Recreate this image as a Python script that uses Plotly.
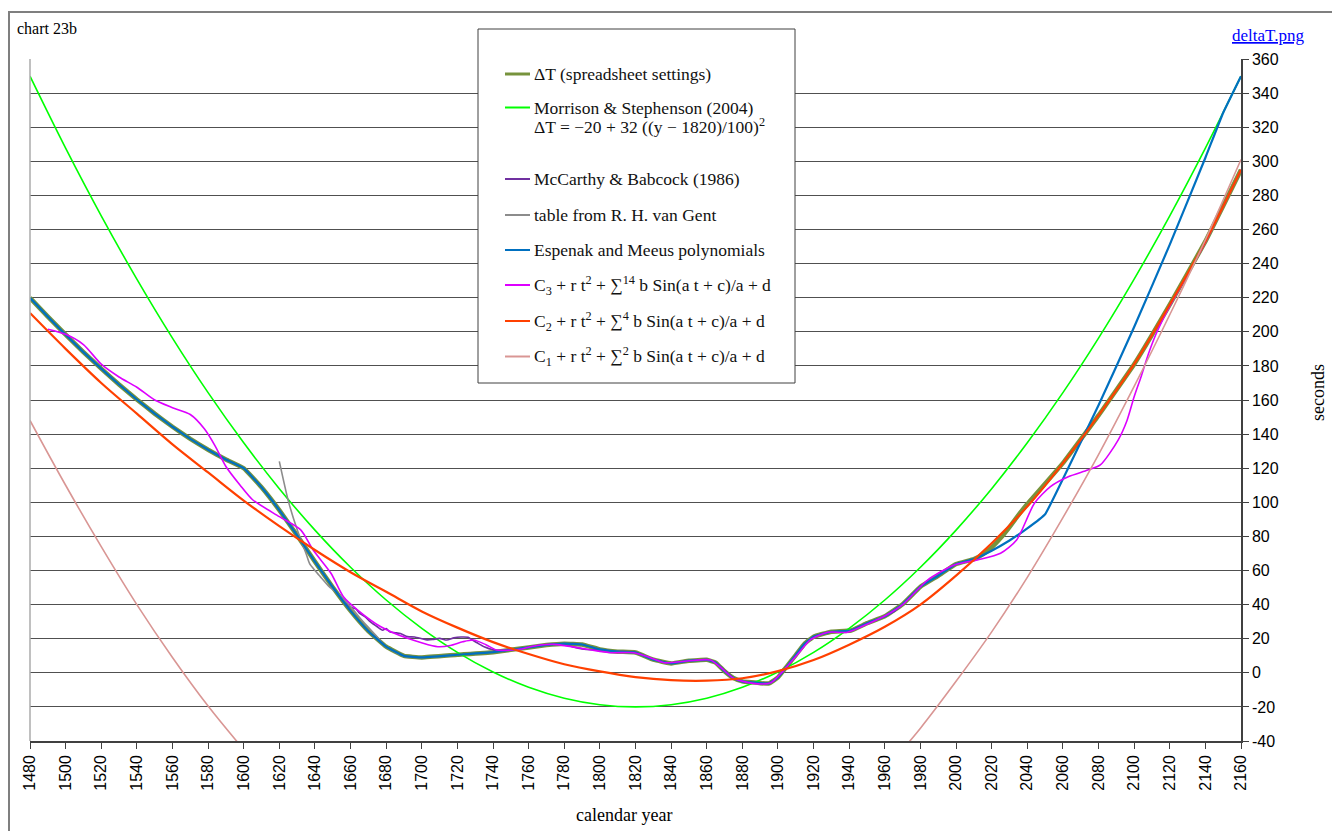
import plotly.graph_objects as go

# ---------------- data ----------------
years20 = list(range(1480, 2161, 20))
x_ticks = list(range(1480, 2161, 20))
y_ticks = list(range(-40, 361, 20))

morrison = [349.9, 307.7, 268.0, 230.9, 196.3, 164.3, 134.9, 108.0, 83.7, 61.9,
            42.7, 26.1, 12.0, 0.5, -8.5, -14.9, -18.7, -20.0, -18.7, -14.9,
            -8.5, 0.5, 12.0, 26.1, 42.7, 61.9, 83.7, 108.0, 134.9, 164.3,
            196.3, 230.9, 268.0, 307.7, 349.9]

c2_vals = [211, 190, 170, 152, 134, 117.5, 101, 86, 72, 59,
           47.5, 36, 26.5, 18, 11, 5, 0.8, -2.5, -4.3, -4.6,
           -3.2, 1, 7.5, 16.5, 27, 40, 57, 76, 97.5, 123,
           151, 181, 216, 253, 295]

c1_years = [1480, 1500, 1520, 1540, 1560, 1580, 1600, 1780,
            1960, 1970, 1980, 2000, 2020, 2040, 2060, 2080, 2100, 2120, 2140, 2160]
c1_vals = [148, 110, 74, 40, 9, -19.5, -45, None,
           -57, -45, -32.5, -5, 24, 56, 91, 128, 168, 210, 254, 301]

esp_years = [1480, 1490, 1500, 1510, 1520, 1530, 1540, 1550, 1560, 1570, 1580, 1590,
             1600, 1610, 1620, 1630, 1640, 1650, 1660, 1670, 1680, 1690, 1700,
             1720, 1740, 1760, 1770, 1780, 1790, 1800, 1810, 1820, 1830, 1840, 1850,
             1860, 1865, 1870, 1875, 1880, 1885, 1890, 1895, 1900, 1905, 1910, 1915,
             1920, 1930, 1941, 1950, 1960, 1970, 1980, 1990, 2000, 2010, 2020, 2030,
             2040, 2050, 2060, 2080, 2100, 2120, 2140, 2150, 2160]
esp_vals = [219.9, 208.9, 198.3, 188.1, 178.4, 169.1, 160.3, 152.0, 144.3, 137.2, 130.8, 125.1,
            120.0, 108.8, 95.4, 80.6, 65.2, 50.2, 36.3, 24.4, 15.3, 9.9, 9.0,
            10.6, 12.1, 14.9, 16.3, 17.1, 16.6, 13.7, 12.4, 11.9, 7.7, 5.5, 7.1,
            7.6, 6.0, 0.9, -3.1, -5.0, -5.6, -6.1, -6.2, -2.7, 3.8, 10.4, 17.1,
            21.2, 24.1, 24.8, 29.1, 33.1, 40.2, 50.5, 56.9, 63.8, 66.7, 71.6, 77.6,
            84.7, 93.0, 113.7, 156.9, 202.8, 251.1, 302.1, 328.5, 349.9]

dt_years = [1480, 1490, 1500, 1510, 1520, 1530, 1540, 1550, 1560, 1570, 1580, 1590,
            1600, 1610, 1620, 1630, 1640, 1650, 1660, 1670, 1680, 1690, 1700,
            1720, 1740, 1760, 1770, 1780, 1790, 1800, 1810, 1820, 1830, 1840, 1850,
            1860, 1865, 1870, 1875, 1880, 1885, 1890, 1895, 1900, 1905, 1910, 1915,
            1920, 1930, 1941, 1950, 1960, 1970, 1980, 1990, 2000, 2010, 2015, 2020,
            2025, 2030, 2035, 2040, 2060, 2080, 2100, 2120, 2140, 2160]
dt_vals = [219.9, 208.9, 198.3, 188.1, 178.4, 169.1, 160.3, 152.0, 144.3, 137.2, 130.8, 125.1,
           120.0, 108.8, 95.4, 80.6, 65.2, 50.2, 36.3, 24.4, 15.3, 9.9, 9.0,
           10.6, 12.1, 14.9, 16.3, 17.1, 16.6, 13.7, 12.4, 11.9, 7.7, 5.5, 7.1,
           7.6, 6.0, 0.9, -3.1, -5.0, -5.6, -6.1, -6.2, -2.7, 3.8, 10.4, 17.1,
           21.2, 24.1, 24.8, 29.1, 33.1, 40.2, 50.5, 56.9, 63.8, 66.7, 69.5, 73.5,
           79.0, 85.5, 92.5, 99.0, 123, 151, 181, 216, 253, 295]

mb_years = [1657, 1660, 1663, 1665, 1668, 1671, 1675, 1678, 1680, 1682, 1685, 1688,
            1692, 1696, 1700, 1703, 1706, 1710, 1714, 1718, 1722, 1726, 1728, 1732,
            1735, 1740, 1745, 1750, 1755, 1760, 1770, 1780, 1785, 1790, 1795, 1800,
            1810, 1820, 1830, 1840, 1850, 1860, 1865, 1870, 1875, 1880, 1885, 1890,
            1895, 1900, 1905, 1910, 1915, 1920, 1925, 1930, 1935, 1940, 1945, 1950,
            1955, 1960, 1965, 1970, 1975, 1980, 1984]
mb_vals = [41, 38.5, 37.5, 35, 33, 30, 27, 25, 26, 24, 23.5, 23,
           21.2, 21, 20, 19.3, 19.5, 20.2, 19.2, 20.5, 21, 20.8, 19.5, 17,
           15.3, 13.5, 13, 13.5, 14, 15, 16.5, 16.5, 15.2, 14, 13.5, 13.5,
           12.5, 12, 8, 5.8, 7, 7.8, 6, 1.5, -3, -5.3, -5.9, -6.2,
           -6, -2.8, 3.5, 10.5, 17, 21, 23, 24, 23.8, 24.3, 26.7, 29.1,
           31, 33.2, 35.7, 40.2, 45.5, 50.5, 53.8]

vg_years = [1620, 1625, 1630, 1635, 1637, 1640, 1643, 1648, 1654, 1660, 1667, 1675,
            1680, 1690, 1700, 1720]
vg_vals = [124, 101, 84, 70, 64, 60, 56.4, 50.5, 45.6, 38.8, 30, 21,
           15.3, 9.9, 9.0, 10.6]

c3_years = [1490, 1500, 1510, 1520, 1530, 1540, 1550, 1560, 1570, 1578, 1584, 1590,
            1598, 1605, 1620, 1632, 1639, 1649, 1656, 1664, 1677, 1692, 1709, 1716,
            1723, 1729, 1736, 1742, 1755, 1761, 1774, 1793, 1806, 1819, 1828, 1836,
            1849, 1862, 1868, 1875, 1886, 1896, 1905, 1912, 1918, 1928, 1939, 1950,
            1961, 1970, 1984, 1999, 2012, 2025, 2034, 2044, 2053, 2063, 2074, 2081,
            2091, 2096, 2100, 2104, 2108, 2112, 2116, 2120, 2130, 2140, 2160]
c3_vals = [201.5, 198.5, 192.5, 181, 173.5, 167.5, 160, 155.5, 151.5, 143, 133, 121,
           110, 101.5, 91.6, 83.8, 72, 58.4, 44.6, 36.8, 27, 20.2, 15.3, 16,
           18.2, 19.2, 16.5, 13.4, 13.8, 15.3, 16.7, 13.8, 11.8, 11.8, 9, 5.9,
           6.9, 7.5, 3, -3.2, -6.2, -5.8, 3.6, 12, 19.2, 23.8, 23.8, 28.5,
           33.9, 40, 54.4, 63.2, 66.2, 70.1, 77.9, 99.4, 109.2, 115, 118.9, 121.9,
           136.5, 148, 161.9, 174, 187, 198, 207, 215, 233.5, 252.5, 295]

legend_labels = [
    "ΔT (spreadsheet settings)",
    "Morrison &amp; Stephenson (2004)",
    "McCarthy &amp; Babcock (1986)",
    "table from R. H. van Gent",
    "Espenak and Meeus polynomials",
    "C<sub>3</sub> + r t<sup>2</sup> + ∑<sup>14</sup> b Sin(a t + c)/a + d",
    "C<sub>2</sub> + r t<sup>2</sup> + ∑<sup>4</sup> b Sin(a t + c)/a + d",
    "C<sub>1</sub> + r t<sup>2</sup> + ∑<sup>2</sup> b Sin(a t + c)/a + d",
]
morrison_formula = "ΔT = −20 + 32 ((y − 1820)/100)<sup>2</sup>"

# ---------------- styling ----------------
W, H = 1332, 831
L, R, T, B = 30, 91, 59, 90
PW = W - L - R
PH = H - T - B


def px(xp):
    return (xp - L) / PW


def py(yp):
    return (H - B - yp) / PH


OLIVE = "#77933C"
GREEN = "#00FF00"
PURPLE = "#7030A0"
GREY = "#8C8C8C"
BLUE = "#0070C0"
MAGENTA = "#DD00FF"
ORANGE = "#FF4000"
ROSY = "#D99694"

fig = go.Figure()

fig.add_trace(go.Scatter(x=dt_years, y=dt_vals, mode="lines",
                         line=dict(color=OLIVE, width=4.5, shape="spline", smoothing=0.3),
                         showlegend=False))
fig.add_trace(go.Scatter(x=years20, y=morrison, mode="lines",
                         line=dict(color=GREEN, width=1.6, shape="spline"), showlegend=False))
fig.add_trace(go.Scatter(x=mb_years, y=mb_vals, mode="lines",
                         line=dict(color=PURPLE, width=1.6, shape="spline", smoothing=0.6),
                         showlegend=False))
fig.add_trace(go.Scatter(x=vg_years, y=vg_vals, mode="lines",
                         line=dict(color=GREY, width=1.6, shape="spline", smoothing=0.6),
                         showlegend=False))
fig.add_trace(go.Scatter(x=esp_years, y=esp_vals, mode="lines",
                         line=dict(color=BLUE, width=2.2, shape="spline", smoothing=0.3),
                         showlegend=False))
fig.add_trace(go.Scatter(x=c3_years, y=c3_vals, mode="lines",
                         line=dict(color=MAGENTA, width=1.6, shape="spline", smoothing=0.7),
                         showlegend=False))
fig.add_trace(go.Scatter(x=years20, y=c2_vals, mode="lines",
                         line=dict(color=ORANGE, width=2.2, shape="spline"), showlegend=False))
fig.add_trace(go.Scatter(x=c1_years, y=c1_vals, mode="lines",
                         line=dict(color=ROSY, width=1.6, shape="spline"), showlegend=False,
                         connectgaps=False))

shapes = []
# outer frame
shapes.append(dict(type="rect", xref="paper", yref="paper",
                   x0=px(9), x1=px(1345), y0=py(845), y1=py(12),
                   line=dict(color="#7F7F7F", width=2), fillcolor="rgba(0,0,0,0)",
                   layer="above"))
# left border of plot area
shapes.append(dict(type="line", xref="paper", yref="paper", x0=0, x1=0, y0=0, y1=1,
                   line=dict(color="#ABABAB", width=1.5), layer="above"))
# legend box
shapes.append(dict(type="rect", xref="paper", yref="paper",
                   x0=px(478), x1=px(795), y0=py(383), y1=py(29),
                   line=dict(color="#404040", width=1), fillcolor="white", layer="above"))

legend_colors = [OLIVE, GREEN, PURPLE, GREY, BLUE, MAGENTA, ORANGE, ROSY]
legend_widths = [3, 2, 2, 2, 2, 2, 2, 2]
legend_y = [74, 107.5, 179, 215, 250, 285, 321, 356.5]

LEG_FONT = dict(family="Liberation Serif, Times New Roman, serif", size=17.5, color="#111111")

annotations = []
for lab, col, wd, yc in zip(legend_labels, legend_colors, legend_widths, legend_y):
    shapes.append(dict(type="line", xref="paper", yref="paper",
                       x0=px(505), x1=px(530), y0=py(yc), y1=py(yc),
                       line=dict(color=col, width=wd), layer="above"))
    annotations.append(dict(xref="paper", yref="paper", x=px(532), y=py(yc),
                            xanchor="left", yanchor="middle", text=lab, showarrow=False,
                            font=LEG_FONT))
annotations.append(dict(xref="paper", yref="paper", x=px(532), y=py(126),
                        xanchor="left", yanchor="middle", text=morrison_formula,
                        showarrow=False, font=LEG_FONT))

annotations.append(dict(xref="paper", yref="paper", x=px(15), y=py(28),
                        xanchor="left", yanchor="middle", text="chart 23b", showarrow=False,
                        font=dict(family="Liberation Serif, Times New Roman, serif", size=16,
                                  color="black")))
annotations.append(dict(xref="paper", yref="paper", x=px(1306), y=py(35),
                        xanchor="right", yanchor="middle", text="<u>deltaT.png</u>",
                        showarrow=False,
                        font=dict(family="Liberation Serif, Times New Roman, serif", size=17,
                                  color="#0000FF")))
annotations.append(dict(xref="paper", yref="paper", x=px(624), y=py(815),
                        xanchor="center", yanchor="middle", text="calendar year",
                        showarrow=False,
                        font=dict(family="Liberation Serif, Times New Roman, serif", size=18,
                                  color="black")))
annotations.append(dict(xref="paper", yref="paper", x=px(1318), y=py(393),
                        xanchor="center", yanchor="middle", text="seconds", textangle=-90,
                        showarrow=False,
                        font=dict(family="Liberation Serif, Times New Roman, serif", size=18,
                                  color="black")))

TICK_FONT = dict(family="Liberation Sans, Arial, sans-serif", size=16, color="black")

fig.update_layout(
    width=W, height=H, autosize=False,
    margin=dict(l=L, r=R, t=T, b=B, pad=0),
    paper_bgcolor="white", plot_bgcolor="white",
    showlegend=False,
    shapes=shapes, annotations=annotations,
    xaxis=dict(range=[1480, 2160], tickmode="array", tickvals=x_ticks,
               ticktext=[str(v) for v in x_ticks], tickangle=-90,
               ticks="outside", ticklen=6, tickwidth=1.2, tickcolor="#404040",
               showline=True, linecolor="#404040", linewidth=1.5,
               showgrid=False, zeroline=False, tickfont=TICK_FONT, fixedrange=True),
    yaxis=dict(range=[-40, 360], side="right", tickmode="array", tickvals=y_ticks,
               ticktext=[str(v) for v in y_ticks],
               ticks="outside", ticklen=6, tickwidth=1.2, tickcolor="#404040",
               showline=True, linecolor="#404040", linewidth=1.5,
               showgrid=True, gridcolor="#505050", gridwidth=1,
               zeroline=False, tickfont=TICK_FONT, fixedrange=True),
)

fig.write_html("out.html")
